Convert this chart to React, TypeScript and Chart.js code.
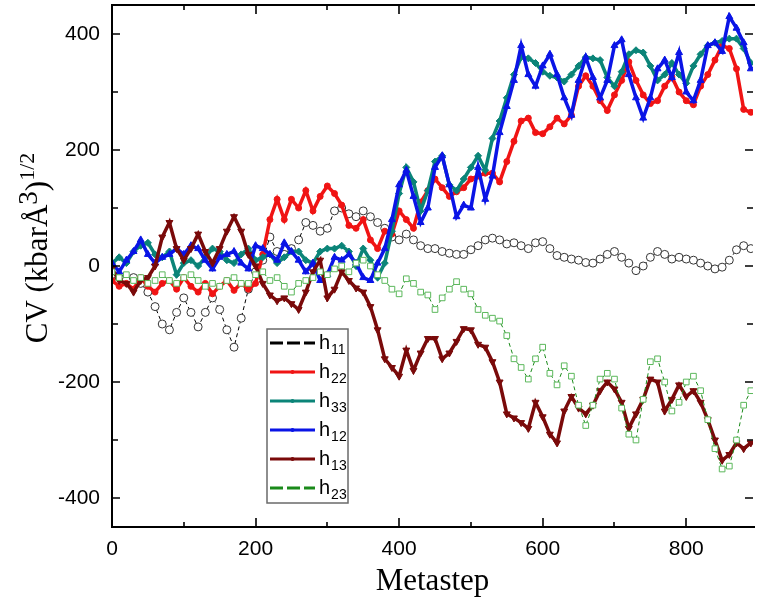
import React, { useEffect, useRef } from 'react';
import { Chart, registerables } from 'chart.js';

Chart.register(...registerables);

// ---------------- data ----------------
const metasteps = [
  0, 10, 20, 30, 40, 50, 60, 70, 80, 90,
  100, 110, 120, 130, 140, 150, 160, 170, 180, 190,
  200, 210, 220, 230, 240, 250, 260, 270, 280, 290,
  300, 310, 320, 330, 340, 350, 360, 370, 380, 390,
  400, 410, 420, 430, 440, 450, 460, 470, 480, 490,
  500, 510, 520, 530, 540, 550, 560, 570, 580, 590,
  600, 610, 620, 630, 640, 650, 660, 670, 680, 690,
  700, 710, 720, 730, 740, 750, 760, 770, 780, 790,
  800, 810, 820, 830, 840, 850, 860, 870, 880, 890,
];

const seriesNames = ['h11', 'h22', 'h33', 'h12', 'h13', 'h23'];

const h11 = [
  -15, -20, -25, -20, -30, -45, -70, -100, -110, -80,
  -55, -80, -105, -80, -55, -75, -110, -140, -90, -40,
  -10, 10, 50, 25, 20, 30, 45, 75, 70, 60,
  65, 95, 100, 90, 85, 95, 85, 75, 65, 50,
  45, 55, 45, 35, 30, 30, 25, 22, 20, 20,
  28, 35, 45, 48, 45, 38, 40, 35, 30, 40,
  42, 30, 18, 15, 12, 10, 6, 5, 12, 20,
  25, 15, 5, -8, 0, 15, 25, 20, 12, 15,
  12, 10, 5, 0, -5, -2, 10, 28, 35, 30,
];

const h22 = [
  -25, -35, -30, -40, -20, -35, -45, -30, -25, -40,
  -20, -35, -45, -30, -48, -35, -25, -42, -30, -40,
  -30, 20, 80, 115, 80, 115, 100, 130, 95, 120,
  138, 125, 105, 70, 65, 80, 45, 30, 60, 55,
  95, 80, 65, 110, 130, 150, 135, 120, 128, 135,
  150, 155, 160, 160, 145, 180, 215, 250, 255, 230,
  228, 240, 255, 245, 260, 310, 328, 310, 285, 268,
  295, 320, 352, 320, 295, 280, 285, 310, 326, 300,
  285, 278, 310, 330, 355, 380, 375, 340, 270, 265,
];

const h33 = [
  5, 15, 5, 25, 35, 40, 20, 15, 25, -15,
  5, 10, 0, 15, 30, 25, 10, 5, 20, 30,
  10, 15, 20, 5, 15, 25, 25, 10, 5, 25,
  30, 30, 35, 25, 0, 30, 10, -20, 5, 60,
  125, 170, 145, 95, 130, 180, 190, 140, 130, 150,
  170, 190, 165, 220, 250, 290, 330, 360, 358, 350,
  335, 328, 325, 318, 330, 345, 360, 358, 355, 325,
  310, 335, 365, 372, 368, 345, 320, 330, 350, 330,
  315, 345, 365, 380, 385, 388, 392, 392, 375, 350,
];

const h12 = [
  5, -10, 10, 25, 45, 20, 5, 15, 20, 30,
  20, 35, 30, 10, -5, 15, 20, 25, 5, -5,
  35, 30, 20, 10, 40, 25, 10, -10, 5, -25,
  -15, 15, 10, 20, 5, -20, -25, 5, 30, 80,
  140, 165, 120, 75, 100, 170, 190, 140, 85, 105,
  100, 170, 115, 155, 230, 275, 320, 380, 330, 310,
  345, 365, 330, 290, 260, 320, 360, 325, 290, 320,
  380, 390, 330, 290, 255, 290, 340, 355, 325, 368,
  300, 285, 320, 380, 385, 370, 430, 410, 385, 340,
];

const h13 = [
  -5, -25, -30, -45, -25, -20, 0, 50, 75, 30,
  10, 30, 55, 25, 5, 30, 60, 85, 60, 20,
  0, -30, -50, -60, -55, -65, -75, -45, -10, 10,
  -55, -40, -10, -25, -38, -45, -70, -110, -160, -175,
  -190, -145, -180, -150, -125, -125, -160, -150, -130, -108,
  -110, -135, -140, -165, -200, -255, -262, -270, -280, -235,
  -260, -290, -305, -250, -225, -245, -255, -240, -215, -200,
  -212, -235, -280, -255, -230, -195, -200, -250, -230, -205,
  -225, -215, -235, -265, -300, -335, -325, -305, -315, -305,
];

const h23 = [
  -10, -20, -15, -25, -20, -30, -25, -15, -25, -30,
  -20, -15, -25, -35, -30, -35, -25, -20, -30, -30,
  -15, -10, -25, -20, -35, -45, -30, -25, -20, -10,
  -15, -5, 0, -10, 5, 10, 0, -15, -25, -40,
  -48, -22, -30, -45, -50, -75, -55, -40, -27, -40,
  -48, -75, -85, -90, -95, -120, -160, -175, -195, -160,
  -140, -185, -205, -172, -190, -240, -275, -240, -195, -185,
  -195, -245, -290, -300, -230, -165, -160, -200, -250, -235,
  -200, -190, -215, -265, -315, -350, -345, -300, -240, -215,
];

const xMajorTicks = [0, 200, 400, 600, 800];
const xMinorTicks = [100, 300, 500, 700];
const yMajorTicks = [-400, -200, 0, 200, 400];
const yMinorTicks = [-300, -100, 100, 300];

const xTitle = 'Metastep';
const yTitleParts = ['CV (kbarÅ', '3', ')', '1/2'];

// ---------------- styles ----------------
const W = 758;
const H = 603;
const X_MIN = 0;
const X_MAX = 893;
const Y_MIN = -450;
const Y_MAX = 450;

const styles = [
  { color: '#000000', width: 1, dash: [4, 3], point: 'circle', radius: 4, fill: '#ffffff', pborder: '#333333', rot: 0, order: 5 },
  { color: '#f01414', width: 3.5, dash: [], point: 'circle', radius: 3, fill: '#f01414', pborder: '#f01414', rot: 0, order: 4 },
  { color: '#0b8478', width: 3.5, dash: [], point: 'rectRot', radius: 3.5, fill: '#0b8478', pborder: '#0b8478', rot: 0, order: 3 },
  { color: '#0a14e6', width: 3.5, dash: [], point: 'triangle', radius: 4, fill: '#0a14e6', pborder: '#0a14e6', rot: 0, order: 2 },
  { color: '#7a0a0a', width: 3.5, dash: [], point: 'triangle', radius: 4, fill: '#7a0a0a', pborder: '#7a0a0a', rot: 180, order: 1 },
  { color: '#1a8a1a', width: 1, dash: [4, 3], point: 'rect', radius: 4, fill: '#ffffff', pborder: '#5cb85c', rot: 0, order: 0 },
];

const seriesValues = [h11, h22, h33, h12, h13, h23];

const sansFont = "'Liberation Sans', Arial, sans-serif";
const serifFont = "'Liberation Serif', 'Times New Roman', serif";

const frameTicksPlugin = {
  id: 'frameTicks',
  afterDatasetsDraw(chart: any) {
    const { ctx, chartArea: a, scales } = chart;
    const xs = scales.x;
    const ys = scales.y;
    ctx.save();
    ctx.strokeStyle = '#000';
    ctx.lineWidth = 2;
    ctx.beginPath();
    ctx.moveTo(a.right + 2, a.top);
    ctx.lineTo(a.left, a.top);
    ctx.lineTo(a.left, a.bottom);
    ctx.lineTo(a.right + 2, a.bottom);
    ctx.stroke();

    ctx.lineWidth = 1.6;
    ctx.beginPath();
    const xt = (v: number, len: number) => {
      const px = Math.round(xs.getPixelForValue(v));
      ctx.moveTo(px, a.bottom);
      ctx.lineTo(px, a.bottom - len);
      ctx.moveTo(px, a.top);
      ctx.lineTo(px, a.top + len);
    };
    const yt = (v: number, len: number) => {
      const py = Math.round(ys.getPixelForValue(v));
      ctx.moveTo(a.left, py);
      ctx.lineTo(a.left + len, py);
      ctx.moveTo(a.right, py);
      ctx.lineTo(a.right - len, py);
    };
    xMajorTicks.forEach((v) => xt(v, 9));
    xMinorTicks.forEach((v) => xt(v, 5));
    yMajorTicks.forEach((v) => yt(v, 8));
    yMinorTicks.forEach((v) => yt(v, 6));
    ctx.stroke();

    // legend
    const bx = 267;
    const by = 329;
    const bw = 81;
    const bh = 174;
    ctx.fillStyle = '#ffffff';
    ctx.fillRect(bx, by, bw, bh);
    ctx.strokeStyle = '#6a6a6a';
    ctx.lineWidth = 1.5;
    ctx.strokeRect(bx, by, bw, bh);
    chart.data.datasets.forEach((ds: any, i: number) => {
      const st = styles[i];
      const yy = 343 + i * 29;
      ctx.save();
      ctx.strokeStyle = st.color;
      ctx.lineWidth = 3;
      if (st.dash.length) {
        ctx.setLineDash([13, 4]);
      } else {
        ctx.setLineDash([]);
      }
      ctx.beginPath();
      ctx.moveTo(270, yy);
      ctx.lineTo(315, yy);
      ctx.stroke();
      ctx.restore();
      if (!st.dash.length) {
        ctx.fillStyle = st.color;
        ctx.beginPath();
        ctx.arc(292.5, yy, 2, 0, Math.PI * 2);
        ctx.fill();
      }
      const name: string = ds.label;
      ctx.fillStyle = '#000';
      ctx.textBaseline = 'alphabetic';
      ctx.textAlign = 'left';
      ctx.font = `20px ${sansFont}`;
      ctx.fillText(name.charAt(0), 319, yy + 6);
      const w0 = ctx.measureText(name.charAt(0)).width;
      ctx.font = `14px ${sansFont}`;
      ctx.fillText(name.slice(1), 319 + w0 + 1, yy + 11);
    });
    ctx.restore();
  },
  afterDraw(chart: any) {
    const { ctx, chartArea: a } = chart;
    ctx.save();
    ctx.fillStyle = '#000';
    // x title
    ctx.font = `31px ${serifFont}`;
    ctx.textAlign = 'center';
    ctx.textBaseline = 'alphabetic';
    ctx.fillText(xTitle, (a.left + a.right) / 2, 590);

    // y title (rotated)
    const big = `31px ${serifFont}`;
    const mid = `27px ${serifFont}`;
    const small = `22px ${serifFont}`;
    const parts = [
      { t: yTitleParts[0], f: big, dy: 0 },
      { t: yTitleParts[1], f: mid, dy: -10 },
      { t: yTitleParts[2], f: big, dy: 0 },
      { t: yTitleParts[3], f: small, dy: -13 },
    ];
    let total = 0;
    parts.forEach((p) => {
      ctx.font = p.f;
      total += ctx.measureText(p.t).width;
    });
    const cy = 248;
    ctx.translate(47, cy + total / 2);
    ctx.rotate(-Math.PI / 2);
    ctx.textAlign = 'left';
    let x = 0;
    parts.forEach((p) => {
      ctx.font = p.f;
      ctx.fillText(p.t, x, p.dy);
      x += ctx.measureText(p.t).width;
    });
    ctx.restore();
  },
};

export default function App() {
  const canvasRef = useRef<HTMLCanvasElement | null>(null);

  useEffect(() => {
    document.body.style.margin = '0';
    const canvas = canvasRef.current;
    if (!canvas) return;

    const datasets = seriesNames.map((name, i) => {
      const st = styles[i];
      return {
        label: name,
        data: metasteps.map((m, k) => ({ x: m, y: seriesValues[i][k] })),
        borderColor: st.color,
        borderWidth: st.width,
        borderDash: st.dash,
        pointStyle: st.point,
        pointRadius: st.radius,
        pointRotation: st.rot,
        pointBackgroundColor: st.fill,
        pointBorderColor: st.pborder,
        pointBorderWidth: 1,
        tension: 0,
        fill: false,
        showLine: true,
        order: st.order,
      };
    });

    const chart = new Chart(canvas, {
      type: 'line',
      data: { datasets },
      plugins: [frameTicksPlugin],
      options: {
        animation: false,
        responsive: false,
        maintainAspectRatio: false,
        devicePixelRatio: 1,
        layout: { padding: { top: 3, left: 0, right: 0, bottom: 0 } },
        plugins: {
          legend: { display: false },
          tooltip: { enabled: false },
          title: { display: false },
        },
        scales: {
          x: {
            type: 'linear',
            min: X_MIN,
            max: X_MAX,
            grid: { display: false, drawTicks: false },
            border: { display: false },
            ticks: {
              autoSkip: false,
              maxRotation: 0,
              padding: 10,
              color: '#000',
              font: { family: sansFont, size: 21 },
            },
            afterBuildTicks: (scale: any) => {
              scale.ticks = xMajorTicks.map((v) => ({ value: v }));
            },
            afterFit: (scale: any) => {
              scale.height = 76;
              scale.paddingLeft = 0;
              scale.paddingRight = 0;
            },
          },
          y: {
            type: 'linear',
            min: Y_MIN,
            max: Y_MAX,
            grid: { display: false, drawTicks: false },
            border: { display: false },
            ticks: {
              autoSkip: false,
              padding: 12,
              color: '#000',
              font: { family: sansFont, size: 21 },
            },
            afterBuildTicks: (scale: any) => {
              scale.ticks = yMajorTicks.map((v) => ({ value: v }));
            },
            afterFit: (scale: any) => {
              scale.width = 112;
              scale.paddingTop = 0;
              scale.paddingBottom = 0;
            },
          },
        },
      },
    } as any);

    return () => {
      chart.destroy();
    };
  }, []);

  return (
    <div style={{ width: W, height: H }}>
      <canvas ref={canvasRef} width={W} height={H} style={{ display: 'block' }} />
    </div>
  );
}
